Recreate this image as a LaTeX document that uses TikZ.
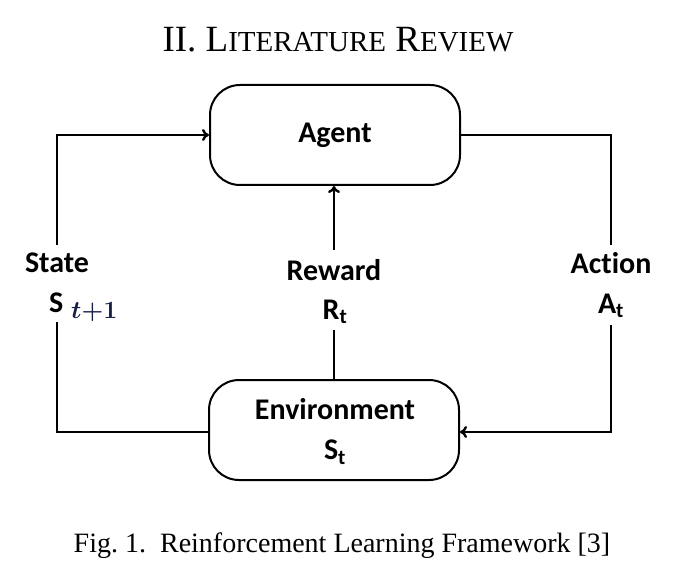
\documentclass[tikz,border=0pt]{standalone}
\usepackage{fontspec}
\setmainfont{Liberation Serif}
\newfontfamily\boxfont[Ligatures=NoCommon]{Carlito}
\usetikzlibrary{arrows.meta}
\definecolor{subblue}{RGB}{20,30,70}
\begin{document}
\begin{tikzpicture}[x=1pt,y=-1pt,
  box/.style={draw=black,line width=2pt,rounded corners=30pt,minimum width=250pt,minimum height=100pt,inner sep=0pt},
  lbl/.style={font=\boxfont\bfseries\fontsize{30}{32}\selectfont,inner sep=0pt,text=black},
  conn/.style={line width=2.4pt},
  arr/.style={conn,-{To[length=7pt,width=12pt]}}]
\useasboundingbox (0,0) rectangle (676,577);
\node[font=\fontsize{37}{40}\selectfont] (title) at (338,40) {II.\ L{\fontsize{29}{31}\selectfont ITERATURE} R{\fontsize{29}{31}\selectfont EVIEW}};
\node[box] (agent) at (335,135) {};
\node[lbl] (agentt) at (335,135) {Agent};
\node[box] (env) at (334,430) {};
\node[lbl] (envt) at (335,409) {Environment};
\node[lbl] (envs) at (335,452) {S\textsubscript{t}};
\node[lbl] (state) at (57,263) {State};
\node[lbl,anchor=base west] (stateS) at (49,312) {S};
\node[anchor=base west,inner sep=0pt,text=subblue,font=\boldmath\fontsize{30}{32}\selectfont] (stateSub) at (71,318) {$t{+}1$};
\node[lbl] (reward) at (334,270) {Reward};
\node[lbl] (rt) at (335,312) {R\textsubscript{t}};
\node[lbl] (action) at (611,263) {Action};
\node[lbl] (at) at (611,306) {A\textsubscript{t}};
\coordinate (sl1) at (57,322);
\coordinate (sl2) at (57,245);
\coordinate (ar1) at (611,245);
\coordinate (ar2) at (611,325);
\coordinate (rw1) at (334,330);
\coordinate (rw2) at (334,250);
\draw[conn] (env.west |- 0,432) -| (sl1);
\draw[arr] (sl2) |- (agent.west);
\draw[conn] (agent.east) -| (ar1);
\draw[arr] (ar2) |- (env.east |- 0,432);
\draw[conn] (env.north -| rw1) -- (rw1);
\draw[arr] (rw2) -- (agent.south -| rw2);
\node[font=\fontsize{28}{30}\selectfont] (caption) at (342,546) {Fig.~1.\ \ Reinforcement Learning Framework [3]};
\end{tikzpicture}
\end{document}
